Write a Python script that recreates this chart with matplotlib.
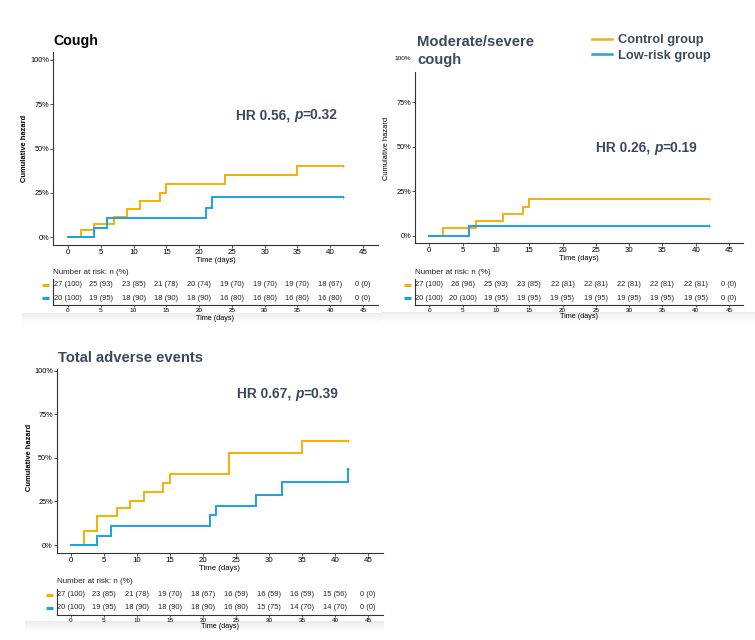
import matplotlib
matplotlib.use('Agg')
import matplotlib.pyplot as plt
import matplotlib.transforms as mtransforms
import numpy as np
from matplotlib.lines import Line2D

plt.rcParams['font.family'] = ['Liberation Sans', 'DejaVu Sans']

W, H = 755, 640
ORANGE = '#F3B106'
BLUE = '#1AA2E2'
SLATE = '#3A4A5E'
DARK = '#333333'

DAYS = [0, 5, 10, 15, 20, 25, 30, 35, 40, 45]
YTICKS = [0, 25, 50, 75, 100]

# cough
cough_ctrl_t = [0, 2, 4, 7, 9, 11, 14, 15, 24, 35, 42]
cough_ctrl_h = [0, 3.7, 7.5, 11.5, 16, 20.5, 25, 30, 35, 40.3, 40.3]
cough_low_t = [0, 4, 6, 21, 22, 42]
cough_low_h = [0, 5.2, 10.5, 16.2, 22.5, 22.5]
cough_ctrl_risk = ['27 (100)', '25 (93)', '23 (85)', '21 (78)', '20 (74)',
                   '19 (70)', '19 (70)', '19 (70)', '18 (67)', '0 (0)']
cough_low_risk = ['20 (100)', '19 (95)', '18 (90)', '18 (90)', '18 (90)',
                  '16 (80)', '16 (80)', '16 (80)', '16 (80)', '0 (0)']

# moderate/severe cough
mod_ctrl_t = [0, 2, 7, 11, 14, 15, 42]
mod_ctrl_h = [0, 4.1, 8.0, 12.2, 16.4, 20.7, 20.7]
mod_low_t = [0, 6, 42]
mod_low_h = [0, 5.5, 5.5]
mod_ctrl_risk = ['27 (100)', '26 (96)', '25 (93)', '23 (85)', '22 (81)',
                 '22 (81)', '22 (81)', '22 (81)', '22 (81)', '0 (0)']
mod_low_risk = ['20 (100)', '20 (100)', '19 (95)', '19 (95)', '19 (95)',
                '19 (95)', '19 (95)', '19 (95)', '19 (95)', '0 (0)']

# total adverse events
tot_ctrl_t = [0, 2, 4, 7, 9, 11, 14, 15, 24, 35, 42]
tot_ctrl_h = [0, 7.8, 16.6, 21, 25.4, 30.2, 35.6, 41, 52.7, 59.5, 59.5]
tot_low_t = [0, 4, 6, 21, 22, 28, 32, 42, 42]
tot_low_h = [0, 5.3, 10.7, 17, 22.5, 28.7, 36, 36, 43.5]
tot_ctrl_risk = ['27 (100)', '23 (85)', '21 (78)', '19 (70)', '18 (67)',
                 '16 (59)', '16 (59)', '16 (59)', '15 (56)', '0 (0)']
tot_low_risk = ['20 (100)', '19 (95)', '18 (90)', '18 (90)', '18 (90)',
                '16 (80)', '15 (75)', '14 (70)', '14 (70)', '0 (0)']


def rect(x0, y0, x1, y1):
    return [x0 / W, 1 - y1 / H, (x1 - x0) / W, (y1 - y0) / H]


def limits(p_lo, p_hi, p0, p_span, span):
    # pixel edges -> data limits, given the pixel position of data 0 and data `span`
    scale = (p_span - p0) / span
    return (p_lo - p0) / scale, (p_hi - p0) / scale


def style_axes(ax):
    for s in ['top', 'right']:
        ax.spines[s].set_visible(False)
    for s in ['left', 'bottom']:
        ax.spines[s].set_color(DARK)
        ax.spines[s].set_linewidth(0.8)
    ax.tick_params(length=2, width=0.6, color=DARK, pad=0.8)


def hazard_panel(fig, box, xmap, ymap, ctrl, low, ctrl_risk, low_risk,
                 table_box, rows_y, hr_text, hr_pos):
    left, top, right, bottom = box
    ax = fig.add_axes(rect(left, top, right, bottom))
    ax.set_xlim(*limits(left, right, xmap[0], xmap[1], 45))
    ax.set_ylim(*limits(bottom, top, ymap[0], ymap[1], 100))
    style_axes(ax)
    for (t, h), c in [(ctrl, ORANGE), (low, BLUE)]:
        ax.step(t, h, where='post', color=c, lw=1.4, solid_joinstyle='miter')
        ax.plot(t[-1], h[-1], marker='+', ms=3, mew=0.7, color=c, alpha=0.5)
    ax.set_xticks(DAYS)
    ax.set_xticklabels([str(d) for d in DAYS], fontsize=5.7)
    ax.set_yticks(YTICKS)
    ax.set_yticklabels([f'{v}%' for v in YTICKS], fontsize=5.3)

    # HR annotation, with italic p
    t1 = ax.annotate('HR ' + hr_text[0] + ', ', xy=(hr_pos[0] / W, 1 - hr_pos[1] / H),
                     xycoords='figure fraction', ha='left', va='center',
                     fontsize=9.9, weight='bold', color=SLATE)
    t2 = ax.annotate('p', xy=(1, 0), xycoords=t1, ha='left', va='bottom',
                     fontsize=9.9, weight='bold', style='italic', color=SLATE)
    ax.annotate('=' + hr_text[1], xy=(1, 0), xycoords=t2, ha='left', va='bottom',
                fontsize=9.9, weight='bold', color=SLATE)

    # risk table
    tl, tt, tr, tb = table_box
    tab = fig.add_axes(rect(tl, tt, tr, tb))
    tab.set_xlim(*limits(tl, tr, xmap[0], xmap[1], 45))
    tab.set_ylim(tb, tt)
    style_axes(tab)
    tab.set_yticks([])
    tab.set_xticks(DAYS)
    tab.set_xticklabels([str(d) for d in DAYS], fontsize=4.6)
    tab.tick_params(length=1.5, pad=1)
    side = mtransforms.blended_transform_factory(tab.transAxes, tab.transData)
    for labels, y, c in [(ctrl_risk, rows_y[0], ORANGE), (low_risk, rows_y[1], BLUE)]:
        for d, lab in zip(DAYS, labels):
            tab.text(d, y, lab, ha='center', va='center', fontsize=5.4, color='#222222')
        tab.plot([-0.035, -0.012], [y, y], color=c, lw=2.2, transform=side,
                 clip_on=False, solid_capstyle='butt')
    tab.text(0, rows_y[0] - 13, 'Number at risk: n (%)', ha='left', va='center',
             fontsize=5.8, color='#222222', transform=side)
    return ax, tab


def gray_band(fig, x0, y0, x1, y1):
    band = fig.add_axes(rect(x0, y0, x1, y1), zorder=-5)
    grad = np.linspace(0, 1, 50).reshape(-1, 1)
    band.imshow(grad, aspect='auto', cmap='Greys_r', vmin=-5.5, vmax=1.0,
                extent=(0, 1, 0, 1))
    band.set_axis_off()


fig = plt.figure(figsize=(W / 100, H / 100), dpi=100)

gray_band(fig, 22, 313, 381, 323)
gray_band(fig, 381, 312, 755, 322)
gray_band(fig, 25, 621, 384, 632)

# panel 1: cough
ax1, tab1 = hazard_panel(fig, (53, 52, 378, 245), (68, 363), (237, 60),
                         (cough_ctrl_t, cough_ctrl_h), (cough_low_t, cough_low_h),
                         cough_ctrl_risk, cough_low_risk,
                         (53, 279, 378, 305), (285, 298), ('0.56', '0.32'), (236, 115))
fig.text(53 / W, 1 - 41 / H, 'Cough', fontsize=10.2, weight='bold', color='black',
         ha='left', va='center')
fig.text(25 / W, 1 - 148 / H, 'Cumulative hazard', rotation=90, fontsize=5.4,
         weight='bold', ha='center', va='center')
fig.text(215.5 / W, 1 - 260 / H, 'Time (days)', fontsize=5.4, ha='center', va='center')
fig.text(215.5 / W, 1 - 318 / H, 'Time (days)', fontsize=5.2, ha='center', va='center')

# panel 2: moderate/severe cough
ax2, tab2 = hazard_panel(fig, (415, 58, 743, 243), (429.3, 729), (235.7, 58),
                         (mod_ctrl_t, mod_ctrl_h), (mod_low_t, mod_low_h),
                         mod_ctrl_risk, mod_low_risk,
                         (415, 279, 743, 305), (285, 298), ('0.26', '0.19'), (596, 148))
ax2.spines['left'].set_bounds(ax2.get_ylim()[0], (235.7 - 72) / (235.7 - 58) * 100)
ax2.yaxis.get_major_ticks()[-1].tick1line.set_visible(False)
ax2.get_yticklabels()[-1].set_fontsize(4.6)
fig.text(417 / W, 1 - 51 / H, 'Moderate/severe\ncough', fontsize=10.6, weight='bold',
         color=SLATE, ha='left', va='center', linespacing=1.3)
fig.text(386 / W, 1 - 148 / H, 'Cumulative hazard', rotation=90, fontsize=5.4,
         ha='center', va='center')
fig.text(579 / W, 1 - 259 / H, 'Time (days)', fontsize=5.4, ha='center', va='center')
fig.text(579 / W, 1 - 316 / H, 'Time (days)', fontsize=5.2, ha='center', va='center')

# panel 3: total adverse events
ax3, tab3 = hazard_panel(fig, (56.7, 369, 383, 553), (71, 368), (545, 370.7),
                         (tot_ctrl_t, tot_ctrl_h), (tot_low_t, tot_low_h),
                         tot_ctrl_risk, tot_low_risk,
                         (57, 589, 383, 615), (595, 608), ('0.67', '0.39'), (237, 394))
fig.text(58 / W, 1 - 358 / H, 'Total adverse events', fontsize=10.6, weight='bold',
         color=SLATE, ha='left', va='center')
fig.text(30 / W, 1 - 457 / H, 'Cumulative hazard', rotation=90, fontsize=5.4,
         weight='bold', ha='center', va='center')
fig.text(219.5 / W, 1 - 569 / H, 'Time (days)', fontsize=5.6, ha='center', va='center')
fig.text(219.5 / W, 1 - 627 / H, 'Time (days)', fontsize=5.2, ha='center', va='center')

# legend
handles = [Line2D([], [], color=ORANGE, lw=1.8), Line2D([], [], color=BLUE, lw=1.8)]
fig.legend(handles, ['Control group', 'Low-risk group'], loc='upper left',
           bbox_to_anchor=(586 / W, 1 - 28 / H), frameon=False, handlelength=1.5,
           handletextpad=0.45, labelspacing=0.25, borderpad=0,
           prop={'size': 9.3, 'weight': 'bold'}, labelcolor=SLATE)

fig.savefig('out.png', dpi=100)
